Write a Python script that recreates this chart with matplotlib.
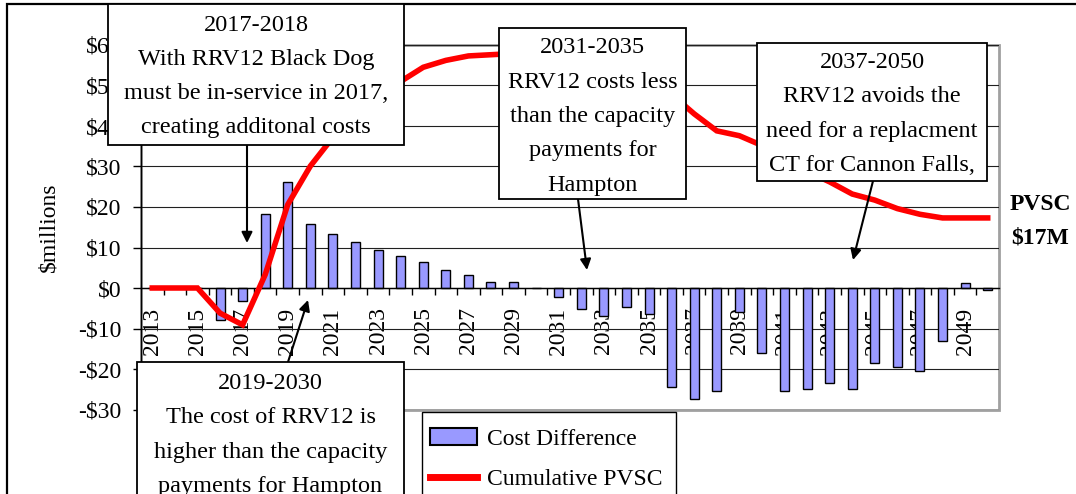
import numpy as np
import matplotlib
matplotlib.use("Agg")
import matplotlib.pyplot as plt
from matplotlib.patches import Rectangle, Patch
from matplotlib.lines import Line2D
from matplotlib.ticker import FuncFormatter

# data ($ millions)
years = list(range(2013, 2051))
cost_diff = [0, 0, 0, -7.9, -3.1, 18.3, 26.1, 15.8, 13.4, 11.3,
             9.3, 7.8, 6.4, 4.5, 3.3, 1.5, 1.5, 0, -2.3, -5.3,
             -6.8, -4.7, -6.5, -24.5, -27.4, -25.5, -6.0, -16.1, -25.5, -24.9,
             -23.5, -24.9, -18.6, -19.6, -20.6, -13.2, 1.2, -0.5]
cum_pvsc = [0, 0, 0, -6.2, -9.1, 3.3, 20.6, 30.1, 37.2, 43.0,
            47.5, 51.0, 54.5, 56.2, 57.3, 57.6, 57.9, 58.0, 57.5, 56.3,
            54.8, 53.8, 52.5, 47.8, 43.0, 38.8, 37.6, 35.2, 31.8, 28.8,
            26.2, 23.2, 21.7, 19.6, 18.2, 17.3, 17.3, 17.3]
y_ticks = [-30, -20, -10, 0, 10, 20, 30, 40, 50, 60]

notes = [
    "2017-2018\nWith RRV12 Black Dog\nmust be in-service in 2017,\ncreating additonal costs",
    "2019-2030\nThe cost of RRV12 is\nhigher than the capacity\npayments for Hampton",
    "2031-2035\nRRV12 costs less\nthan the capacity\npayments for\nHampton",
    "2037-2050\nRRV12 avoids the\nneed for a replacment\nCT for Cannon Falls,",
]

W, H = 1076, 494
FONT = "Liberation Serif"
plt.rcParams['font.family'] = [FONT, 'DejaVu Serif']


def fx(x):
    return x / W


def fy(y):
    return 1 - y / H


fig = plt.figure(figsize=(W / 100, H / 100), dpi=100)
ax = fig.add_axes([fx(141), fy(409.5), (999 - 141) / W, (409.5 - 45) / H])

x = np.arange(len(years))
ax.bar(x, cost_diff, width=0.4, color='#9999FF', edgecolor='black', linewidth=1,
       zorder=2, label='Cost Difference')
ax.plot(x, cum_pvsc, color='#FF0000', linewidth=4, zorder=3,
        solid_joinstyle='miter', label='Cumulative PVSC')

ax.set_xlim(-0.5, len(years) - 0.5)
ax.set_ylim(-30, 60)

# y axis
ax.set_yticks(y_ticks)
ax.yaxis.set_major_formatter(FuncFormatter(
    lambda v, p: ("-$%d" % abs(v)) if v < 0 else ("$%d" % v)))
ax.tick_params(axis='y', direction='out', length=6, width=1, pad=8, labelsize=17)
ax.yaxis.grid(True, color='#202020', linewidth=0.8)
ax.set_axisbelow(True)
ax.set_ylabel("$millions", fontsize=17)
ax.yaxis.set_label_coords((59 - 141) / (999 - 141), 0.5)

# x axis crosses at zero
ax.spines['bottom'].set_position(('data', 0))
ax.spines['bottom'].set_linewidth(1)
ax.spines['left'].set_linewidth(1)
for s in ['top', 'right']:
    ax.spines[s].set_visible(False)
ax.add_patch(Rectangle((0, 0), 1, 1, transform=ax.transAxes, fill=False,
                       edgecolor='#A0A0A0', linewidth=2, zorder=0.5, clip_on=False))
ax.set_xticks(x[::2])
ax.set_xticklabels([str(y) for y in years[::2]], rotation=90, fontsize=17)
ax.set_xticks(x[:-1] + 0.5, minor=True)
ax.tick_params(axis='x', which='major', length=0, pad=14)
ax.tick_params(axis='x', which='minor', direction='out', length=5, width=1)

# outer chart frame
fig.add_artist(Rectangle((fx(7), fy(520)), fx(1100), 516 / H, fill=False,
                         edgecolor='black', linewidth=1.6, zorder=1))

# note boxes: (left, top, right, bottom) in pixels, text centre shift
boxes = [(108, 4, 404, 145, 2), (137, 362, 404, 512, -2),
         (499, 28, 686, 199, 3), (757, 43, 987, 181, 2)]
for (l, t, r, b, dy), txt in zip(boxes, notes):
    fig.add_artist(Rectangle((fx(l), fy(b)), (r - l) / W, (b - t) / H,
                             facecolor='white', edgecolor='black', linewidth=1.3, zorder=5))
    fig.text(fx((l + r) / 2), fy((t + b) / 2 + dy), txt, ha='center', va='center',
             multialignment='center', fontsize=17.5, linespacing=1.83, zorder=6)

# arrows from boxes
arrows = [((247, 145), (247, 243)), ((288, 362), (308, 300)),
          ((578, 199), (587, 270)), ((873, 181), (853, 260))]
for start, end in arrows:
    ax.annotate('', xy=(fx(end[0]), fy(end[1])), xytext=(fx(start[0]), fy(start[1])),
                xycoords='figure fraction', textcoords='figure fraction',
                arrowprops=dict(arrowstyle='-|>', color='black', lw=1.5,
                                mutation_scale=16, shrinkA=0, shrinkB=0),
                annotation_clip=False, zorder=4)

fig.text(fx(1040), fy(221), "PVSC\n$17M", ha='center', va='center',
         multialignment='center', fontsize=17, fontweight='bold', linespacing=1.8)

# legend
fig.add_artist(Rectangle((fx(422), fy(512)), (676 - 422) / W, 100 / H,
                         facecolor='white', edgecolor='black', linewidth=1, zorder=5))
handles = [Patch(facecolor='#9999FF', edgecolor='black', linewidth=1.5),
           Line2D([0], [0], color='#FF0000', linewidth=5)]
leg = fig.legend(handles, ['Cost Difference', 'Cumulative PVSC'],
                 loc='upper left', bbox_to_anchor=(fx(430), fy(428)),
                 frameon=False, fontsize=17, borderpad=0, handlelength=2.0,
                 handletextpad=0.4, labelspacing=0.82, borderaxespad=0)
leg.set_zorder(6)

plt.savefig("out.png", dpi=100)
